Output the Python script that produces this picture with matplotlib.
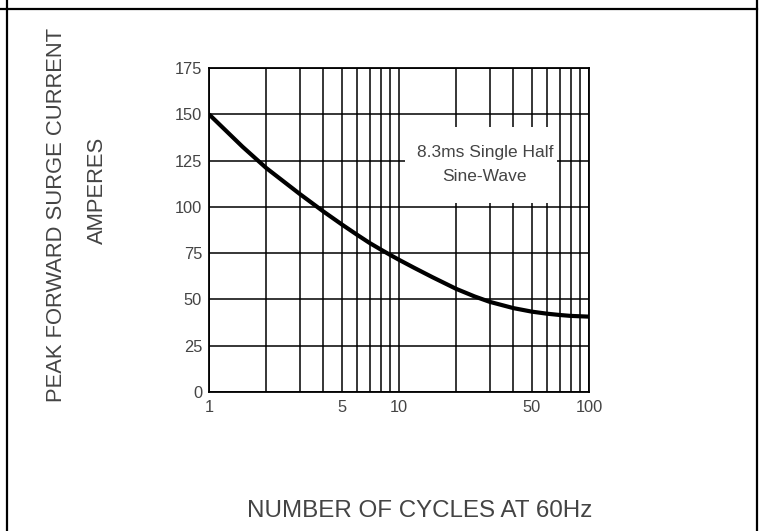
import matplotlib
matplotlib.use("Agg")
import matplotlib.pyplot as plt
from matplotlib.lines import Line2D
from matplotlib.patches import Rectangle
from matplotlib.ticker import FixedLocator, NullFormatter

plt.rcParams['font.family'] = ['Liberation Sans', 'DejaVu Sans']

# Surge current curve
cycles = [1, 1.5, 2, 3, 4, 5, 6, 7, 8, 9, 10, 12, 15, 20, 25, 30, 40, 50, 60, 70, 80, 100]
surge_amps = [150, 132.5, 121, 107, 97.5, 90.5, 85, 80.5, 77, 74, 71.4, 67.1, 62,
              55.7, 51.6, 48.7, 45.3, 43.4, 42.3, 41.6, 41.1, 40.7]

x_tick_vals = [1, 5, 10, 50, 100]
x_tick_labels = ['1', '5', '10', '50', '100']
x_grid_vals = [1, 2, 3, 4, 5, 6, 7, 8, 9, 10, 20, 30, 40, 50, 60, 70, 80, 90, 100]
y_tick_vals = [0, 25, 50, 75, 100, 125, 150, 175]

txt_col = '#444444'

fig = plt.figure(figsize=(7.62, 5.31), dpi=100)
ax = fig.add_axes([0.2743, 0.2618, 0.4987, 0.6101])

ax.plot(cycles, surge_amps, color='black', linewidth=3.0,
        solid_joinstyle='round', solid_capstyle='butt', zorder=4)

ax.set_xscale('log')
ax.set_xlim(1, 100)
ax.set_ylim(0, 175)

# grid: every cycle step, every 25 A
ax.xaxis.set_major_locator(FixedLocator(x_tick_vals))
ax.xaxis.set_minor_locator(FixedLocator(x_grid_vals))
ax.xaxis.set_minor_formatter(NullFormatter())
ax.set_xticklabels(x_tick_labels)
ax.set_yticks(y_tick_vals)
ax.grid(True, which='both', color='black', linewidth=1.1)
ax.set_axisbelow(True)
ax.tick_params(which='both', length=0, labelsize=11.8, colors=txt_col)
ax.tick_params(axis='y', pad=5)
ax.tick_params(axis='x', pad=6)
for s in ax.spines.values():
    s.set_linewidth(1.3)

# white box behind the note
ax.add_patch(Rectangle((0.516, 0.583), 0.40, 0.235, transform=ax.transAxes,
                       facecolor='white', edgecolor='none', zorder=3))
ax.text(0.726, 0.702, '8.3ms Single Half\nSine-Wave', transform=ax.transAxes,
        ha='center', va='center', fontsize=12.5, color=txt_col,
        linespacing=1.75, zorder=5)

fig.text(57 / 762, 1 - 215 / 531, 'PEAK FORWARD SURGE CURRENT', rotation=90,
         ha='center', va='center', fontsize=15.8, color=txt_col)
fig.text(97 / 762, 1 - 190 / 531, 'AMPERES', rotation=90,
         ha='center', va='center', fontsize=15.8, color=txt_col)
fig.text(420 / 762, 1 - 511 / 531, 'NUMBER OF CYCLES AT 60Hz',
         ha='center', va='center', fontsize=17.4, color=txt_col)

# table cell frame
fig.add_artist(Line2D([7 / 762, 7 / 762], [0, 1], color='black', linewidth=1.6))
fig.add_artist(Line2D([757 / 762, 757 / 762], [0, 1], color='black', linewidth=1.6))
fig.add_artist(Line2D([0, 757 / 762], [1 - 9 / 531, 1 - 9 / 531], color='black', linewidth=1.6))

fig.savefig('out.png', dpi=100)
